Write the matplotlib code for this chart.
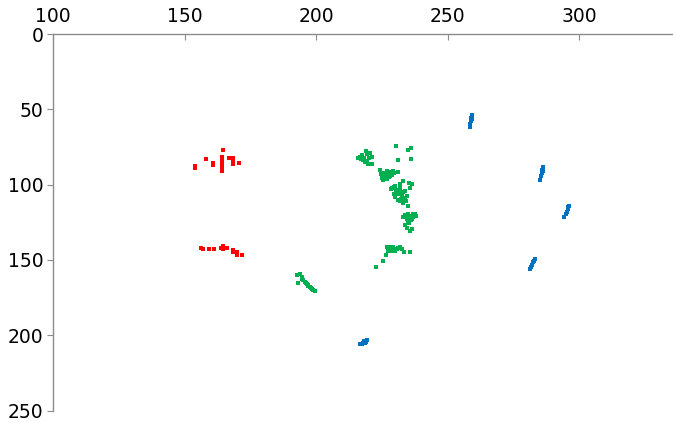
import matplotlib
matplotlib.use('Agg')
import matplotlib.pyplot as plt

# red points
red_x = [154.0, 154.0, 158.2, 160.7, 160.7, 164.4, 164.4, 164.4, 164.4, 164.4, 164.4, 164.5,
         167.0, 168.3, 168.3, 168.3, 170.8,
         156.3, 156.9, 159.4, 161.2, 164.8, 164.8, 164.8, 163.9, 166.0, 168.6, 168.6, 169.8,
         169.8, 171.7]
red_y = [87.5, 89.0, 83.0, 85.6, 86.8, 81.5, 83.5, 85.5, 87.5, 89.5, 91.0, 76.8,
         82.1, 82.5, 84.2, 86.0, 85.6,
         142.0, 142.8, 142.8, 142.8, 141.0, 142.0, 142.8, 142.2, 142.2, 143.7, 145.0, 145.0,
         146.5, 146.8]

# green points
green_x = [219.0, 220.5, 216.7, 218.0, 219.5, 221.2, 219.9, 221.2, 217.5, 220.0, 217.0, 218.3,
           219.3, 216.0, 218.8,
           230.4, 235.1, 236.2, 231.3, 236.2,
           224.3, 225.6, 226.9, 228.1, 229.4, 226.2, 225.0, 226.9, 228.1, 231.0, 225.6, 227.5,
           229.0, 226.0, 227.2, 228.5, 224.8, 226.5, 227.8, 229.8,
           228.4, 230.0, 231.9, 233.2, 235.5, 236.3, 231.3, 232.6, 233.8, 234.5, 231.9, 233.2,
           235.1, 235.7, 233.8, 229.5, 230.8, 232.0, 231.0, 233.0, 230.2, 232.3, 229.0, 230.5,
           231.5, 232.8, 234.0, 231.2, 233.5, 229.8, 232.0, 234.2,
           233.2, 235.1, 237.0, 238.0, 234.5, 235.7, 235.5, 233.8, 234.7, 236.3, 235.7, 236.5,
           234.0, 236.8, 237.5, 235.0, 236.0, 234.8, 236.5,
           226.9, 228.1, 229.4, 230.6, 231.9, 232.5, 227.5, 230.0, 226.6, 233.6, 235.7, 228.8,
           229.2, 227.8, 228.5, 230.0, 231.2,
           225.3, 222.8,
           192.7, 193.9, 193.3, 194.5, 195.2, 195.8, 196.5, 197.1, 198.1, 199.0, 199.6, 196.0,
           197.8, 194.8, 196.8, 198.5]
green_y = [78.0, 78.8, 82.0, 83.9, 84.5, 81.7, 86.5, 86.5, 80.5, 82.5, 83.0, 82.2,
           79.5, 82.5, 84.8,
           74.2, 77.0, 76.0, 83.9, 83.2,
           90.5, 92.0, 91.0, 91.4, 91.0, 94.2, 95.8, 96.5, 94.2, 91.6, 97.1, 93.0,
           93.5, 93.2, 92.5, 92.8, 92.8, 95.5, 95.2, 92.2,
           103.0, 100.9, 99.8, 97.6, 98.7, 99.3, 105.3, 108.6, 108.6, 107.5, 110.8, 111.9,
           114.1, 102.4, 104.2, 101.5, 103.5, 102.0, 106.5, 105.0, 108.0, 109.5, 102.5, 104.5,
           104.0, 106.8, 110.0, 110.0, 109.8, 106.0, 101.2, 111.2,
           121.4, 119.6, 119.2, 120.8, 123.0, 122.3, 125.2, 126.7, 128.9, 129.6, 130.7, 121.0,
           120.0, 121.8, 119.5, 121.5, 123.8, 124.5, 122.8,
           141.7, 141.3, 141.7, 142.8, 141.7, 142.8, 143.9, 144.4, 146.6, 145.0, 145.0, 142.5,
           143.2, 142.3, 144.0, 143.5, 142.2,
           151.0, 154.5,
           160.0, 159.4, 165.4, 161.6, 163.1, 164.9, 166.0, 167.5, 168.9, 169.7, 170.4, 165.5,
           168.0, 162.5, 166.8, 169.2]

# blue points
blue_x = [259.3, 258.9, 258.9, 258.6, 258.6, 259.2,
          286.3, 285.9, 285.9, 285.6, 285.2, 286.1,
          296.2, 295.8, 295.4, 295.1, 294.3, 295.9,
          283.3, 282.5, 282.1, 281.7, 281.4, 282.8,
          216.7, 217.9, 219.0, 219.4, 218.2, 217.5, 218.6]
blue_y = [53.6, 55.6, 57.6, 59.6, 61.6, 56.5,
          88.0, 90.0, 92.0, 94.0, 96.7, 91.0,
          113.9, 115.9, 117.9, 119.2, 121.2, 114.8,
          149.7, 151.7, 153.6, 155.0, 156.3, 150.6,
          206.0, 205.3, 204.6, 203.3, 204.0, 206.0, 205.5]

x_ticks = [100, 150, 200, 250, 300]
y_ticks = [0, 50, 100, 150, 200, 250]

fig = plt.figure(figsize=(6.73, 4.23), dpi=100)
ax = fig.add_axes([53 / 673, 1 - 410.5 / 423, 1 - 53 / 673, (410.5 - 34) / 423])

ax.scatter(red_x, red_y, s=7, color='#FF0000', marker='s', linewidths=0)
ax.scatter(green_x, green_y, s=8, color='#00B050', marker='s', linewidths=0)
ax.scatter(blue_x, blue_y, s=8, color='#0070C0', marker='s', linewidths=0)

ax.set_xlim(100, 335.7)
ax.set_ylim(250, 0)
ax.xaxis.tick_top()
ax.set_xticks(x_ticks)
ax.set_yticks(y_ticks)

ax.spines['right'].set_visible(False)
ax.spines['bottom'].set_visible(False)
for s in ['top', 'left']:
    ax.spines[s].set_color('#8c8c8c')
    ax.spines[s].set_linewidth(1)

ax.tick_params(axis='x', direction='in', length=4, color='#8c8c8c', labelsize=13.5, pad=6)
ax.tick_params(axis='y', direction='out', length=4, color='#8c8c8c', labelsize=13.5, pad=3)

plt.savefig('out.png', dpi=100)
